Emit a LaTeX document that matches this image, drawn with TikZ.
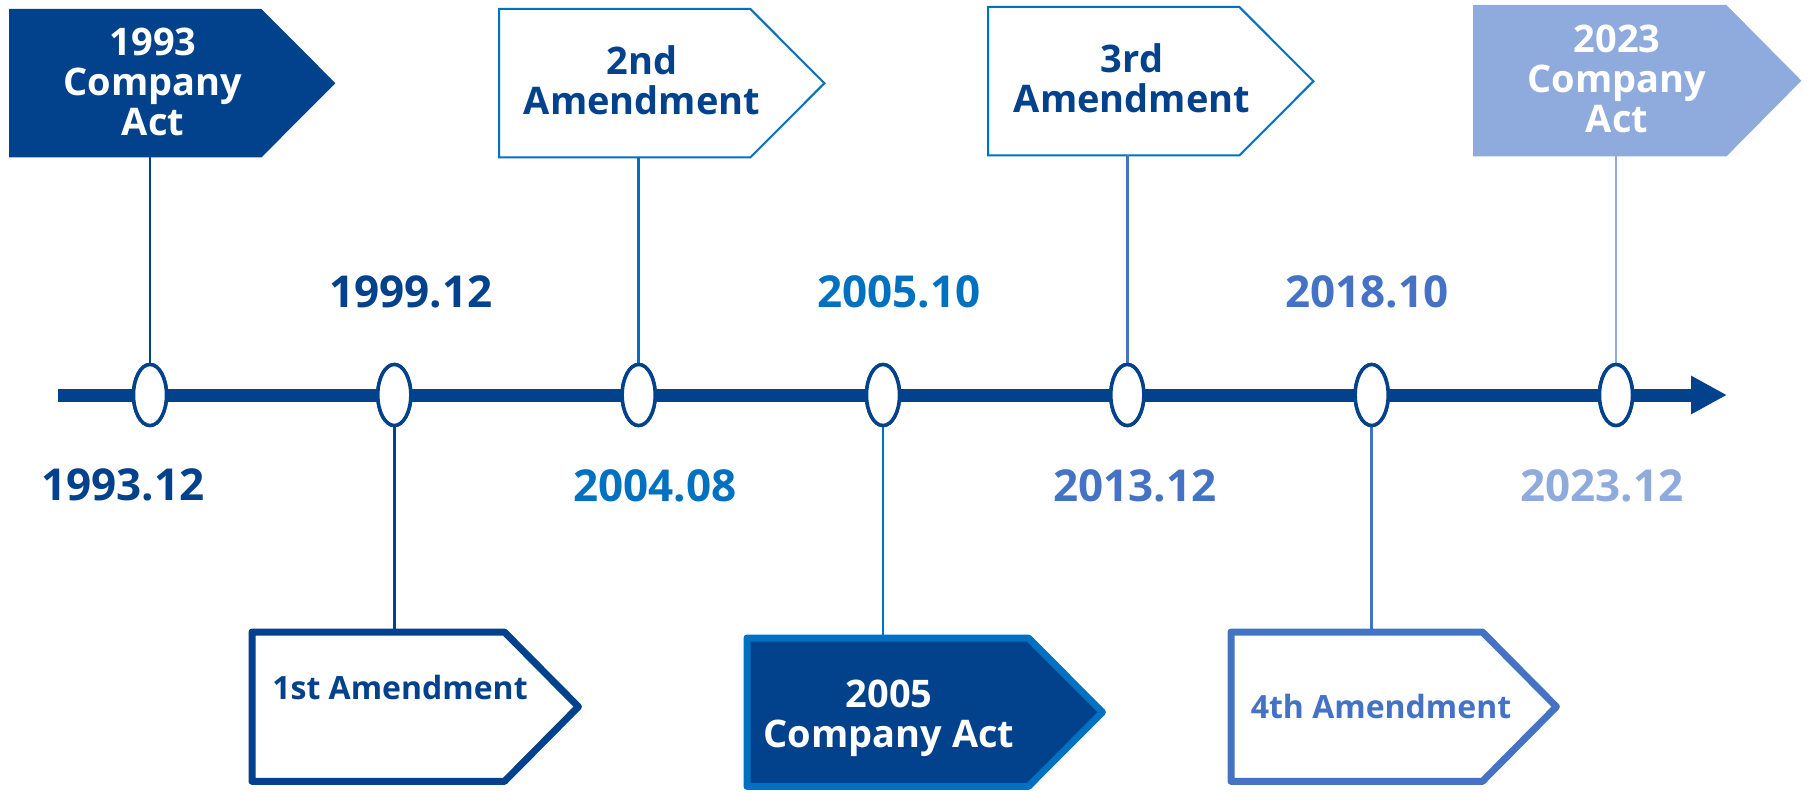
\documentclass[tikz,border=0pt]{standalone}
\usepackage{fontspec}
\setmainfont{Open Sans}
\usetikzlibrary{arrows.meta,shapes.geometric}

\definecolor{navy}{HTML}{02428C}
\definecolor{midblue}{HTML}{0070C0}
\definecolor{steel}{HTML}{4472C4}
\definecolor{pale}{HTML}{8FAADC}

\tikzset{
  stop/.style={ellipse, draw=navy, fill=white, line width=3.5pt,
    minimum width=33pt, minimum height=61pt, inner sep=0pt},
  frame/.style 2 args={rectangle, inner sep=0pt, minimum width=#1, minimum height=#2, anchor=north west},
  conn/.style={line width=2.8pt},
  thin frame/.style={line width=2pt, line join=miter},
  thick frame/.style={line width=7pt, line join=round},
  datelbl/.style={font=\fontsize{44}{48}\selectfont\bfseries, inner sep=0pt, anchor=base},
  boxtxt/.style={font=\fontsize{38}{40}\selectfont\bfseries, align=center, inner sep=0pt},
  linetxt/.style={font=\fontsize{32}{36}\selectfont\bfseries, inner sep=0pt, anchor=base},
}

\begin{document}
\begin{tikzpicture}[x=1pt, y=-1pt]
\useasboundingbox (0,0) rectangle (1807,792);

% ---- tag-shaped boxes (rectangle part as a node, point added by the path)
\node[frame={252pt}{148pt}] (b1) at (9,9) {};
\node[frame={251pt}{148pt}] (b2) at (499,9) {};
\node[frame={251pt}{148pt}] (b3) at (988,7) {};
\node[frame={253pt}{151pt}] (b7) at (1473,5) {};
\node[frame={252pt}{149pt}] (b4) at (252,632) {};
\node[frame={281pt}{148pt}] (b5) at (747,638) {};
\node[frame={251pt}{149pt}] (b6) at (1231,632) {};

\fill[navy] (b1.north west) -- (b1.north east) -- ([xshift=74pt]b1.east)
  -- (b1.south east) -- (b1.south west) -- cycle;
\draw[thin frame, midblue, fill=white] (b2.north west) -- (b2.north east) -- ([xshift=74pt]b2.east)
  -- (b2.south east) -- (b2.south west) -- cycle;
\draw[thin frame, midblue, fill=white] (b3.north west) -- (b3.north east) -- ([xshift=74pt]b3.east)
  -- (b3.south east) -- (b3.south west) -- cycle;
\fill[pale] (b7.north west) -- (b7.north east) -- ([xshift=75pt]b7.east)
  -- (b7.south east) -- (b7.south west) -- cycle;
\draw[thick frame, navy, fill=white] (b4.north west) -- (b4.north east) -- ([xshift=74pt]b4.east)
  -- (b4.south east) -- (b4.south west) -- cycle;
\draw[thick frame, midblue, fill=navy] (b5.north west) -- (b5.north east) -- ([xshift=74pt]b5.east)
  -- (b5.south east) -- (b5.south west) -- cycle;
\draw[thick frame, steel, fill=white] (b6.north west) -- (b6.north east) -- ([xshift=74pt]b6.east)
  -- (b6.south east) -- (b6.south west) -- cycle;

% ---- timeline stops
\coordinate (ax0) at (58,395);
\coordinate (ax1) at (1727,395);
\node[stop] (e1) at (150,395) {};
\node[stop] (e2) at (394.3,395) {};
\node[stop] (e3) at (638.7,395) {};
\node[stop] (e4) at (883,395) {};
\node[stop] (e5) at (1127.3,395) {};
\node[stop] (e6) at (1371.7,395) {};
\node[stop] (e7) at (1616,395) {};

% ---- connectors from stops to boxes
\draw[conn, navy]    (e1.north) -- (e1.north |- b1.south);
\draw[conn, navy]    (e2.south) -- (e2.south |- b4.north);
\draw[conn, midblue] (e3.north) -- (e3.north |- b2.south);
\draw[conn, midblue] (e4.south) -- (e4.south |- b5.north);
\draw[conn, steel]   (e5.north) -- (e5.north |- b3.south);
\draw[conn, steel]   (e6.south) -- (e6.south |- b6.north);
\draw[conn, pale]    (e7.north) -- (e7.north |- b7.south);

% ---- axis with arrow, stops drawn on top
\draw[navy, line width=13pt, -{Triangle[length=36pt, width=36pt]}] (ax0) -- (ax1);
\foreach \e in {e1,e2,e3,e4,e5,e6,e7} \node[stop] at (\e) {};

% ---- box texts
\node[boxtxt, white] (t1) at (153,82) {1993\\Company\\Act};
\node[boxtxt, navy]  (t2) at (642,80) {2nd\\Amendment};
\node[boxtxt, navy]  (t3) at (1132,78) {3rd\\Amendment};
\node[boxtxt, white] (t7) at (1617,79) {2023\\Company\\Act};
\node[linetxt, navy] (t4) at (400,699) {1st Amendment};
\node[boxtxt, white] (t5) at (889,718) {2005\\Company Act};
\node[linetxt, steel] (t6) at (1381,718) {4th Amendment};

% ---- dates
\node[datelbl, navy]    (d1) at (123,500)  {1993.12};
\node[datelbl, navy]    (d2) at (411,307)  {1999.12};
\node[datelbl, midblue] (d3) at (655,501)  {2004.08};
\node[datelbl, midblue] (d4) at (899,307)  {2005.10};
\node[datelbl, steel]   (d5) at (1135,501) {2013.12};
\node[datelbl, steel]   (d6) at (1367,307) {2018.10};
\node[datelbl, pale]    (d7) at (1602,501) {2023.12};
\end{tikzpicture}
\end{document}
